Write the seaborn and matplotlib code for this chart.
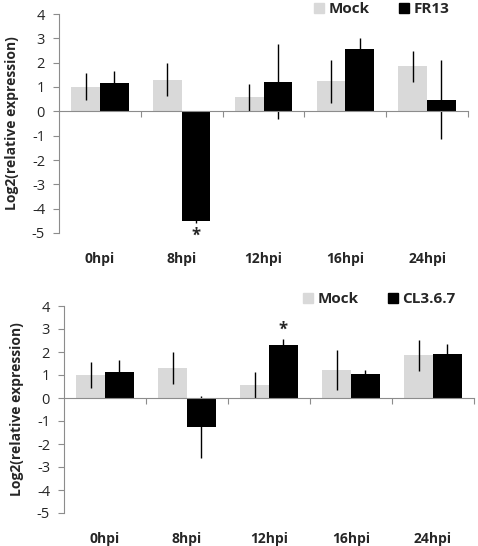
import numpy as np
import pandas as pd
import matplotlib
matplotlib.use("Agg")
import matplotlib.pyplot as plt
import matplotlib.patches as mpatches
import seaborn as sns

# data
times = ["0hpi", "8hpi", "12hpi", "16hpi", "24hpi"]

mock_top = [1.02, 1.30, 0.57, 1.23, 1.85]
mock_top_err = [0.54, 0.68, 0.55, 0.88, 0.63]
fr13 = [1.15, -4.50, 1.22, 2.57, 0.48]
fr13_err = [0.52, 0.08, 1.53, 0.46, 1.62]

mock_bot = [1.00, 1.30, 0.57, 1.22, 1.85]
mock_bot_err = [0.56, 0.68, 0.55, 0.88, 0.66]
cl367 = [1.12, -1.25, 2.32, 1.05, 1.90]
cl367_err = [0.53, 1.35, 0.23, 0.17, 0.45]

# significance stars: (category index, y position)
star_top = (1, -5.12)
star_bot = (2, 2.95)

GRAY = "#d9d9d9"
AXC = "#8c8c8c"
FONT = ["Open Sans", "DejaVu Sans"]

sns.set_theme(style="white")
plt.rcParams["font.family"] = FONT


def panel(ax, mock, mock_err, treat, treat_err, treat_name, star, legend_xy):
    df = pd.DataFrame({
        "time": times * 2,
        "value": mock + treat,
        "group": ["Mock"] * 5 + [treat_name] * 5,
    })
    sns.barplot(data=df, x="time", y="value", hue="group", order=times,
                hue_order=["Mock", treat_name], palette=[GRAY, "black"],
                width=0.7, gap=0, errorbar=None, edgecolor="none",
                saturation=1, legend=False, ax=ax)

    # error bars at the bar centres seaborn placed
    bars = ax.patches
    xs = np.array([b.get_x() + b.get_width() / 2 for b in bars])
    ax.errorbar(xs[:5], mock, yerr=mock_err, fmt="none", ecolor="black",
                elinewidth=1.0, capsize=0)
    ax.errorbar(xs[5:10], treat, yerr=treat_err, fmt="none", ecolor="black",
                elinewidth=1.0, capsize=0)

    i, sy = star
    ax.text(xs[5 + i], sy, "*", ha="center", va="center", fontsize=12,
            fontweight="bold")

    ax.set_xlim(-0.5, 4.5)
    ax.set_ylim(-5, 4)
    ax.set_yticks(range(-5, 5))
    ax.set_yticklabels([str(v) for v in range(-5, 5)], fontsize=10.5)
    ax.set_xlabel("")
    ax.set_ylabel("Log2(relative expression)", fontsize=10, fontweight="bold",
                  labelpad=9)

    for s in ["top", "right"]:
        ax.spines[s].set_visible(False)
    ax.spines["left"].set_color(AXC)
    ax.spines["left"].set_linewidth(0.8)
    ax.spines["bottom"].set_position(("data", 0))
    ax.spines["bottom"].set_color(AXC)
    ax.spines["bottom"].set_linewidth(0.8)
    ax.tick_params(axis="y", which="major", left=True, length=4, width=0.8,
                   color=AXC, pad=6)
    ax.set_xticks([0.5, 1.5, 2.5, 3.5, 4.5])
    ax.set_xticklabels([])
    ax.tick_params(axis="x", which="major", bottom=True, length=4, width=0.8,
                   color=AXC, direction="out")

    sec = ax.secondary_xaxis(0.0)
    sec.set_xticks(range(5))
    sec.set_xticklabels(times, fontsize=10, fontweight="bold")
    sec.tick_params(length=0, pad=14)
    sec.spines["bottom"].set_visible(False)

    handles = [mpatches.Patch(color=GRAY, label="Mock"),
               mpatches.Patch(color="black", label=treat_name)]
    ax.legend(handles=handles, ncol=2, loc="center right",
              bbox_to_anchor=legend_xy, bbox_transform=ax.figure.transFigure,
              frameon=False, handlelength=0.65, handleheight=0.65,
              handletextpad=0.3, columnspacing=1.9, borderpad=0,
              prop={"family": FONT, "weight": "bold", "size": 11})


fig = plt.figure(figsize=(4.78, 5.46), dpi=100)
ax1 = fig.add_axes([59 / 478, 1 - 233 / 546, 409 / 478, 219 / 546])
ax2 = fig.add_axes([64 / 478, 1 - 513 / 546, 410 / 478, 207 / 546])

panel(ax1, mock_top, mock_top_err, fr13, fr13_err, "FR13", star_top,
      (457 / 478, 1 - 9 / 546))
panel(ax2, mock_bot, mock_bot_err, cl367, cl367_err, "CL3.6.7", star_bot,
      (463 / 478, 1 - 299 / 546))

fig.savefig("out.png", dpi=100, facecolor="white")
